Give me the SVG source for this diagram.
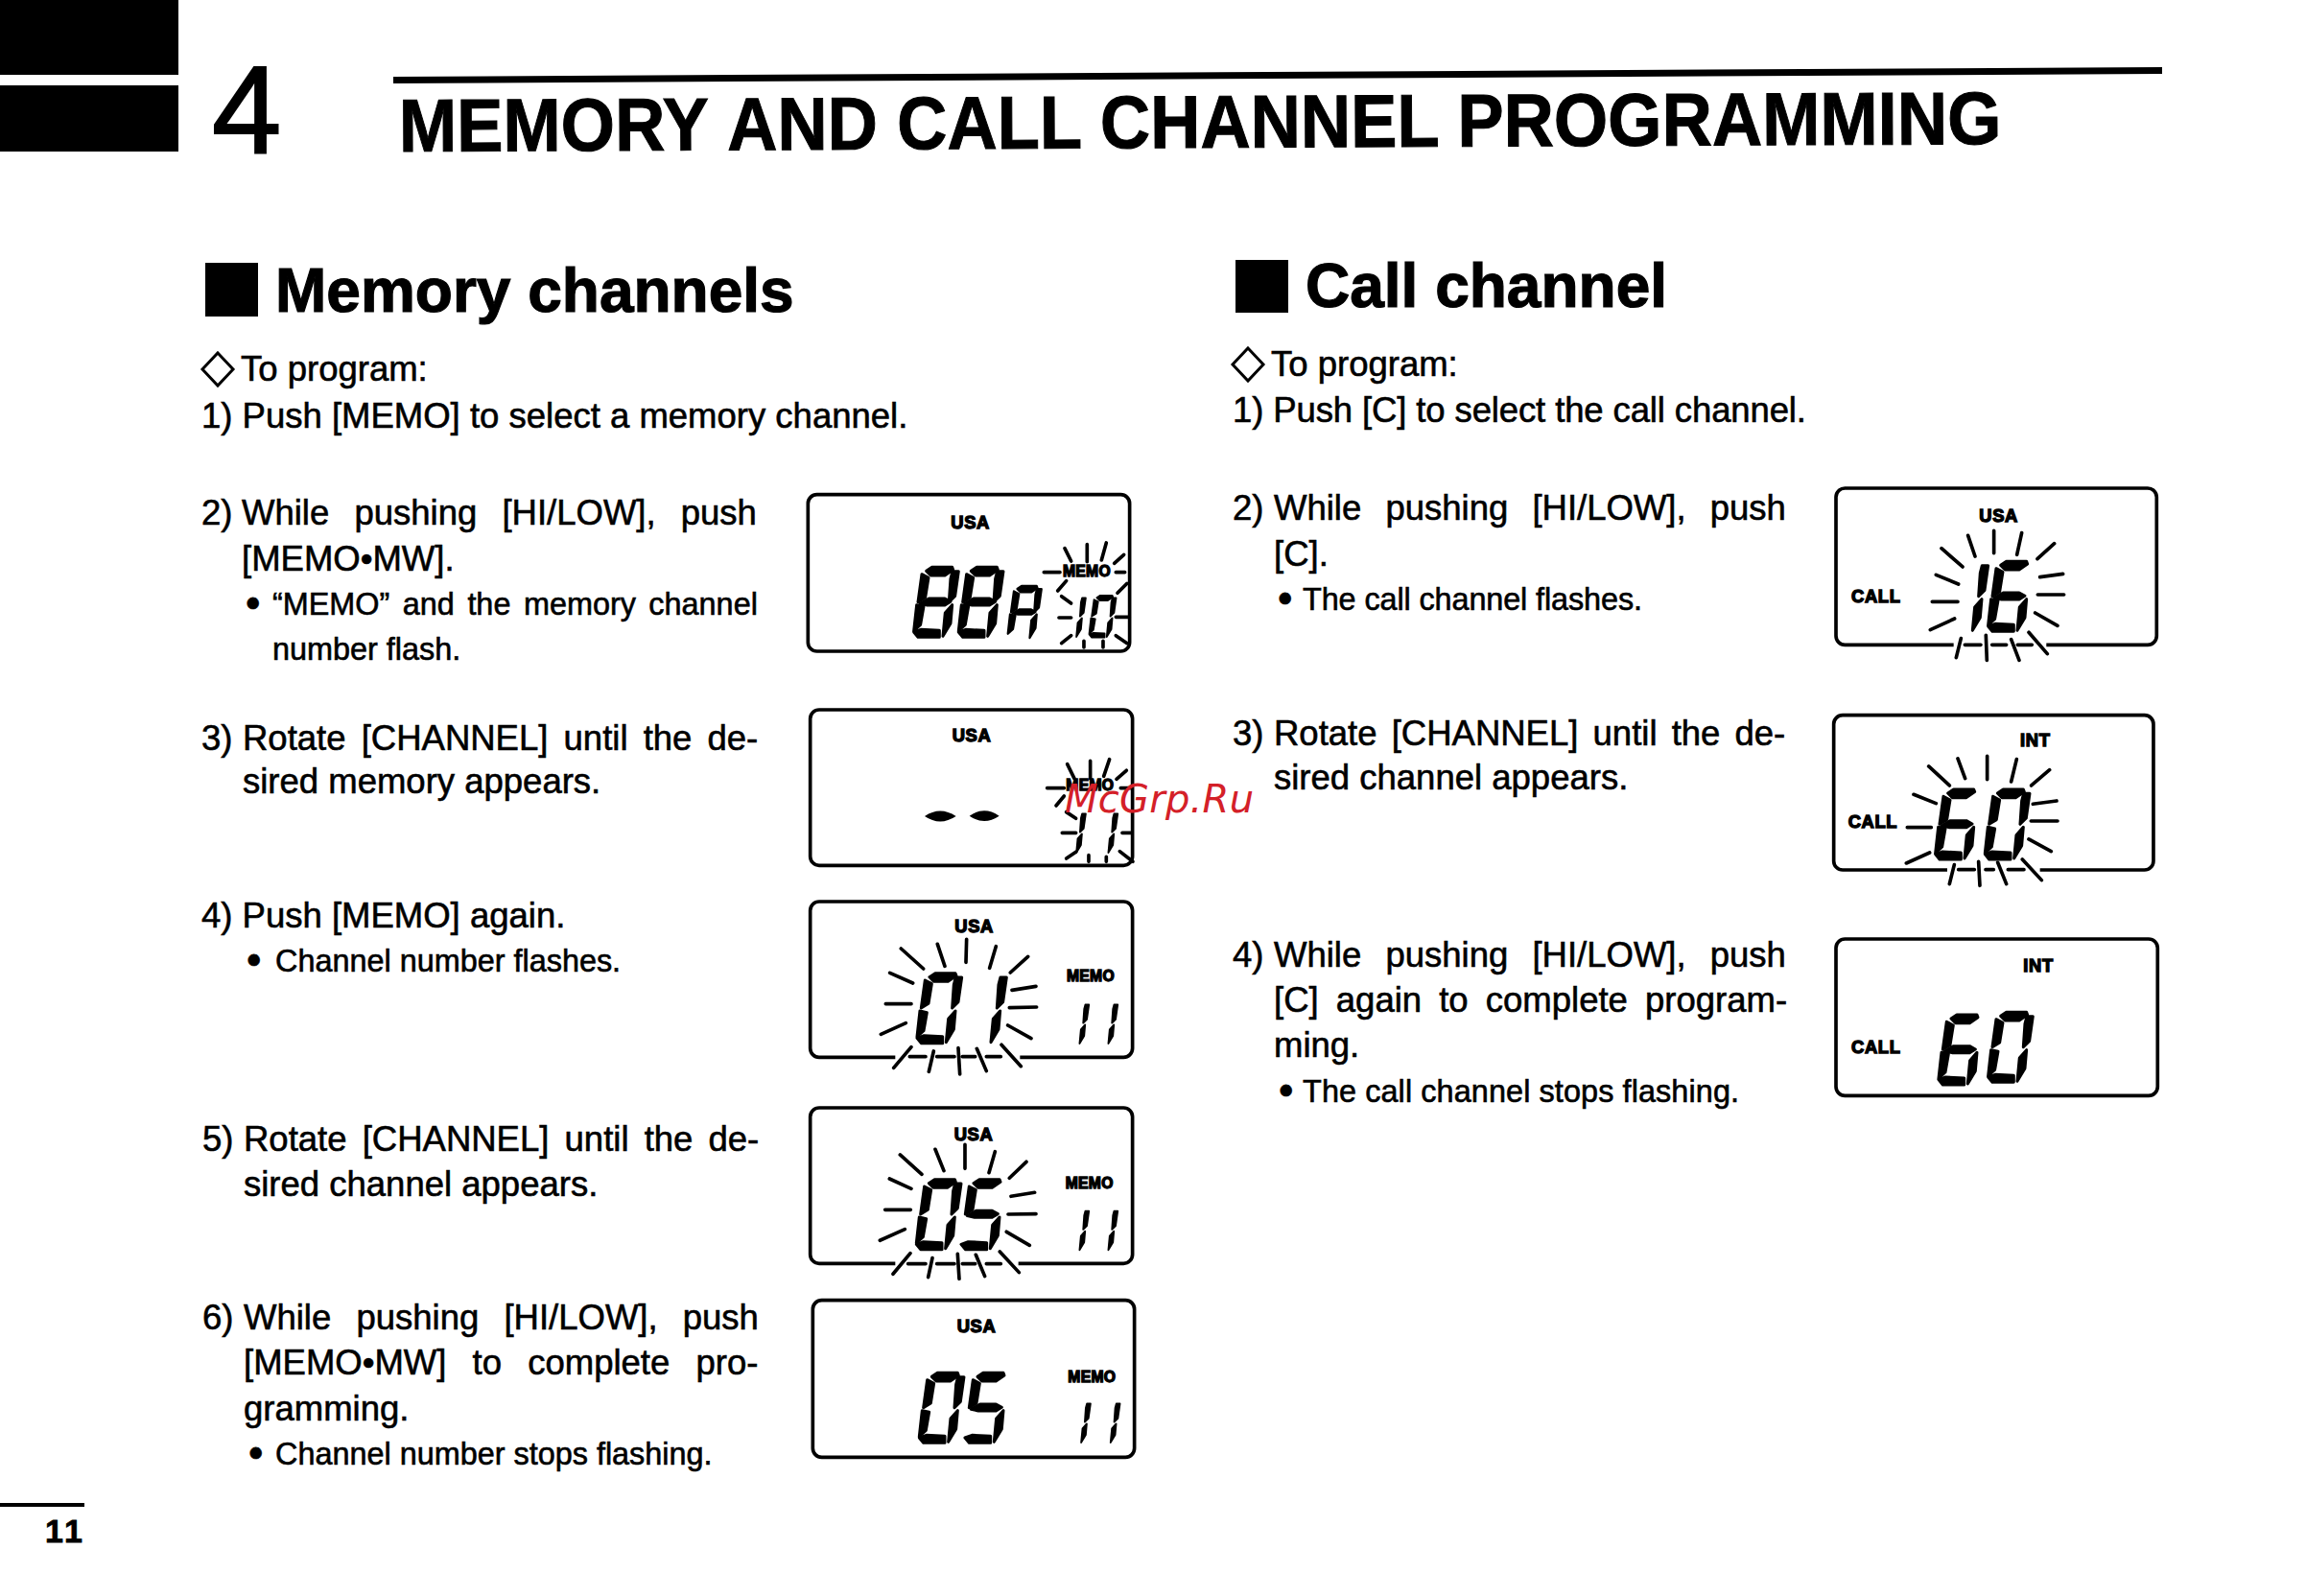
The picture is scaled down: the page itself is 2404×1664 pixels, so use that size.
<svg xmlns="http://www.w3.org/2000/svg" width="2404" height="1664" viewBox="0 0 2404 1664">
<style>
text{font-family:"Liberation Sans",Arial,sans-serif;fill:#000}
.b{font-size:36.5px;stroke:#000;stroke-width:.6px}
.s{font-size:32.4px;stroke:#000;stroke-width:.6px}
.bu{font-size:44px;stroke:#000;stroke-width:.6px}
.h{font-size:64px;font-weight:700;stroke:#000;stroke-width:1.2px}
.l{font-weight:700;font-size:55px;stroke:#000;stroke-width:4px;letter-spacing:2px}
.m{font-weight:700;font-size:47px;stroke:#000;stroke-width:4px;letter-spacing:1px}
.box{fill:none;stroke:#000;stroke-width:11}
.r{stroke:#000;stroke-width:11;stroke-linecap:round;fill:none}
.seg{stroke:#000;stroke-width:9;stroke-linejoin:round}
</style>
<defs>
<polygon class="seg" id="a" points="42,16 60,4 123,4 126,12 100,30 56,30"/>
<polygon class="seg" id="f" points="28,26 49,37 39,99 16,113"/>
<polygon class="seg" id="b" points="124,17 143,17 132,94 113,113 118,40"/>
<polygon class="seg" id="g" points="22,118 50,102 100,102 118,112 100,123 45,123"/>
<polygon class="seg" id="e" points="12,122 34,127 24,184 3,203"/>
<polygon class="seg" id="c" points="123,122 118,180 94,220 101,147"/>
<polygon class="seg" id="d" points="3,207 25,199 83,202 83,223 16,223"/>
<g id="d0"><use href="#a"/><use href="#f"/><use href="#b"/><use href="#e"/><use href="#c"/><use href="#d"/></g>
<g id="d1"><use href="#b"/><use href="#c"/></g>
<g id="d5"><use href="#a"/><use href="#f"/><use href="#g"/><use href="#c"/><use href="#d"/></g>
<g id="d6"><use href="#a"/><use href="#f"/><use href="#g"/><use href="#e"/><use href="#c"/><use href="#d"/></g>
<g id="d8"><use href="#a"/><use href="#f"/><use href="#b"/><use href="#g"/><use href="#e"/><use href="#c"/><use href="#d"/></g>
<g id="dA"><use href="#a"/><use href="#f"/><use href="#b"/><use href="#g"/><use href="#e"/><use href="#c"/></g>
</defs>
<g id="page-header">
<rect x="0" y="0" width="186" height="78"/>
<rect x="0" y="89" width="186" height="69"/>
<text x="221" y="159" font-size="130" stroke="#000" stroke-width="2">4</text>
<polygon points="410,80 2254,70 2254,77 410,87"/>
<text transform="translate(416 158) rotate(-.27) scale(.928 1)" font-size="78" font-weight="700" stroke="#000" stroke-width="1">MEMORY<tspan dx="2"> AND CALL CHANNEL PROGRAMMING</tspan></text>
</g>
<g id="memory-text">
<rect x="214" y="274" width="55" height="56"/>
<text class="h" x="287" y="325">Memory channels</text>
<polygon points="227,368 243,385 227,402 211,385" fill="none" stroke="#000" stroke-width="3"/>
<text class="b" x="251" y="397">To program:</text>
<text class="b" x="210" y="446">1) Push [MEMO] to select a memory channel.</text>
<text class="b" x="210" y="547">2)</text><text class="b" x="252" y="547" word-spacing="16">While pushing [HI/LOW], push</text>
<text class="b" x="252" y="595">[MEMO•MW].</text>
<text class="bu" x="256" y="644">•</text><text class="s" x="284" y="641" word-spacing="4.5">“MEMO” and the memory channel</text>
<text class="s" x="284" y="688">number flash.</text>
<text class="b" x="210" y="782">3)</text><text class="b" x="253" y="782" word-spacing="6">Rotate [CHANNEL] until the de-</text>
<text class="b" x="253" y="827">sired memory appears.</text>
<text class="b" x="210" y="967">4) Push [MEMO] again.</text>
<text class="bu" x="257" y="1016">•</text><text class="s" x="287" y="1013">Channel number flashes.</text>
<text class="b" x="211" y="1200">5)</text><text class="b" x="254" y="1200" word-spacing="6">Rotate [CHANNEL] until the de-</text>
<text class="b" x="254" y="1247">sired channel appears.</text>
<text class="b" x="211" y="1386">6)</text><text class="b" x="254" y="1386" word-spacing="16">While pushing [HI/LOW], push</text>
<text class="b" x="254" y="1433" word-spacing="17">[MEMO•MW] to complete pro-</text>
<text class="b" x="254" y="1481">gramming.</text>
<text class="bu" x="259" y="1530">•</text><text class="s" x="287" y="1527">Channel number stops flashing.</text>
</g>
<g id="call-text">
<rect x="1288" y="271" width="55" height="55"/>
<text class="h" x="1361" y="320">Call channel</text>
<polygon points="1301,363 1317,380 1301,397 1285,380" fill="none" stroke="#000" stroke-width="3"/>
<text class="b" x="1325" y="392">To program:</text>
<text class="b" x="1285" y="440" textLength="598">1) Push [C] to select the call channel.</text>
<text class="b" x="1285" y="542">2)</text><text class="b" x="1328" y="542" word-spacing="15">While pushing [HI/LOW], push</text>
<text class="b" x="1328" y="590">[C].</text>
<text class="bu" x="1332" y="639">•</text><text class="s" x="1358" y="636" textLength="354">The call channel flashes.</text>
<text class="b" x="1285" y="777">3)</text><text class="b" x="1328" y="777" word-spacing="5">Rotate [CHANNEL] until the de-</text>
<text class="b" x="1328" y="823">sired channel appears.</text>
<text class="b" x="1285" y="1008">4)</text><text class="b" x="1328" y="1008" word-spacing="15">While pushing [HI/LOW], push</text>
<text class="b" x="1328" y="1055" word-spacing="8">[C] again to complete program-</text>
<text class="b" x="1328" y="1102">ming.</text>
<text class="bu" x="1333" y="1152">•</text><text class="s" x="1358" y="1149" textLength="455">The call channel stops flashing.</text>
</g>
<g id="display-1" transform="translate(820,500) scale(.3333)">
<rect class="box" x="67" y="47" width="1006" height="490" rx="28"/>
<text class="l" x="514" y="152">USA</text>
<use href="#d8" x="395" y="270"/><use href="#d8" x="535" y="270"/>
<use href="#dA" transform="translate(690,330) scale(.75)"/>
<text class="m" x="864" y="302">MEMO</text>
<use href="#d1" transform="translate(850,360) scale(.6)"/><use href="#d0" transform="translate(945,360) scale(.6)"/>
<path class="r" d="M870,215L890,255M940,203V257M1000,198L985,252M1055,235L1025,262M1058,290H1030M805,290H855M875,317L848,348M860,365L890,387M852,432H890M860,512L890,488M930,505V525M990,505V525M1030,488L1065,512M1065,325L1035,355M1030,430H1072"/>
</g>
<g id="display-2" transform="translate(820,500) scale(.3333)">
<rect class="box" x="74" y="720" width="1008" height="487" rx="28"/>
<text class="l" x="518" y="820">USA</text>
<path d="M432,1053Q480,1020 530,1053Q480,1086 432,1053ZM572,1052Q618,1020 665,1052Q618,1084 572,1052Z"/>
<text class="m" x="874" y="972">MEMO</text>
<use href="#d1" transform="translate(850,1035) scale(.6)"/><use href="#d1" transform="translate(950,1035) scale(.6)"/>
<path class="r" d="M878,890L900,935M950,880V935M1010,875L992,928M1063,910L1032,937M815,965H868M1045,965H1075M868,990L843,1020M905,1060L875,1040M862,1105H905M1050,1105H1080M875,1185L905,1165M945,1175V1195M1000,1180V1195M1042,1163L1083,1195"/>
</g>
<g id="display-3" transform="translate(820,920) scale(.3333)">
<rect class="box" x="74" y="60" width="1008" height="487" rx="28"/>
<text class="l" x="526" y="157">USA</text>
<text class="m" x="876" y="310">MEMO</text>
<use href="#d0" x="405" y="280"/><use href="#d1" x="545" y="280"/>
<use href="#d1" transform="translate(860,372) scale(.6)"/><use href="#d1" transform="translate(950,372) scale(.6)"/>
<path fill="#fff" stroke="none" d="M340,530H730V560H340Z"/>
<path class="r" d="M358,207L428,270M472,193L495,262M563,178L561,250M655,200L635,268M755,232L700,282M780,325L705,337M782,390L697,392M765,488L692,447M733,575L672,508M625,590L595,520M542,600L537,518M445,592L460,528M335,580L390,515M295,475L373,440M310,380H390M323,283L395,315M385,545H435M470,545H525M550,545H590M625,545H670"/>
</g>
<g id="display-4" transform="translate(820,920) scale(.3333)">
<rect class="box" x="74" y="705" width="1008" height="487" rx="28"/>
<text class="l" x="524" y="806">USA</text>
<text class="m" x="872" y="958">MEMO</text>
<use href="#d0" x="403" y="925"/><use href="#d5" x="543" y="925"/>
<use href="#d1" transform="translate(860,1018) scale(.6)"/><use href="#d1" transform="translate(950,1018) scale(.6)"/>
<path fill="#fff" stroke="none" d="M340,1175H725V1205H340Z"/>
<path class="r" d="M355,852L423,913M465,835L492,902M558,820V895M652,842L633,908M750,874L697,925M776,970L702,982M780,1037L693,1038M760,1135L688,1093M727,1220L667,1155M620,1232L592,1165M540,1240L535,1162M443,1235L456,1175M333,1225L387,1160M292,1120L370,1085M308,1024H388M322,927L390,958M380,1193H435M470,1193H525M550,1193H590M625,1193H670"/>
</g>
<g id="display-5" transform="translate(820,1340) scale(.3333)">
<rect class="box" x="82" y="47" width="1006" height="491" rx="28"/>
<text class="l" x="533" y="148">USA</text>
<text class="m" x="880" y="302">MEMO</text>
<use href="#d0" x="412" y="270"/><use href="#d5" x="555" y="270"/>
<use href="#d1" transform="translate(865,360) scale(.6)"/><use href="#d1" transform="translate(957,360) scale(.6)"/>
</g>
<g id="display-6" transform="translate(1900,490) scale(.3333)">
<rect class="box" x="42" y="57" width="1003" height="490" rx="28"/>
<text class="l" x="490" y="162">USA</text>
<text class="l" x="90" y="415">CALL</text>
<use href="#d1" x="375" y="282"/><use href="#d6" x="515" y="282"/>
<path fill="#fff" stroke="none" d="M410,530H700V560H410Z"/>
<path class="r" d="M372,245L438,303M455,205L477,270M536,190V260M623,197L608,265M725,230L672,278M752,325L680,335M755,390H673M735,487L665,447M703,575L645,508M615,595L590,530M514,595L511,517M418,587L433,527M337,500L413,465M343,412H423M355,328L425,357M445,547H495M530,547H575M610,547H655"/>
</g>
<g id="display-7" transform="translate(1900,490) scale(.3333)">
<rect class="box" x="35" y="767" width="1000" height="484" rx="28"/>
<text class="l" x="618" y="865">INT</text>
<text class="l" x="80" y="1118">CALL</text>
<use href="#d6" x="350" y="995"/><use href="#d0" x="505" y="995"/>
<path fill="#fff" stroke="none" d="M390,1235H680V1265H390Z"/>
<path class="r" d="M332,927L397,987M423,903L446,965M515,895V968M607,905L590,975M710,938L653,987M732,1035L658,1045M735,1098H652M715,1193L645,1155M685,1283L625,1218M575,1295L548,1228M492,1300L488,1225M397,1295L412,1235M262,1230L335,1197M265,1118H340M285,1015L355,1043M425,1250H475M510,1250H535M580,1250H630"/>
</g>
<g id="display-8" transform="translate(1900,960) scale(.3333)">
<rect class="box" x="42" y="57" width="1006" height="490" rx="28"/>
<text class="l" x="628" y="158">INT</text>
<text class="l" x="90" y="415">CALL</text>
<use href="#d6" x="360" y="290"/><use href="#d0" x="515" y="282"/>
</g>
<g id="footer">
<rect x="0" y="1567" width="88" height="4"/>
<text x="47" y="1608" font-size="34" font-weight="700" letter-spacing="3" stroke="#000" stroke-width=".8">11</text>
</g>
<text x="1110" y="847" font-size="40" textLength="197" style="font-family:'DejaVu Sans',sans-serif;fill:#d42028;font-style:italic">McGrp.Ru</text>
<g id="connectors"></g>
</svg>
